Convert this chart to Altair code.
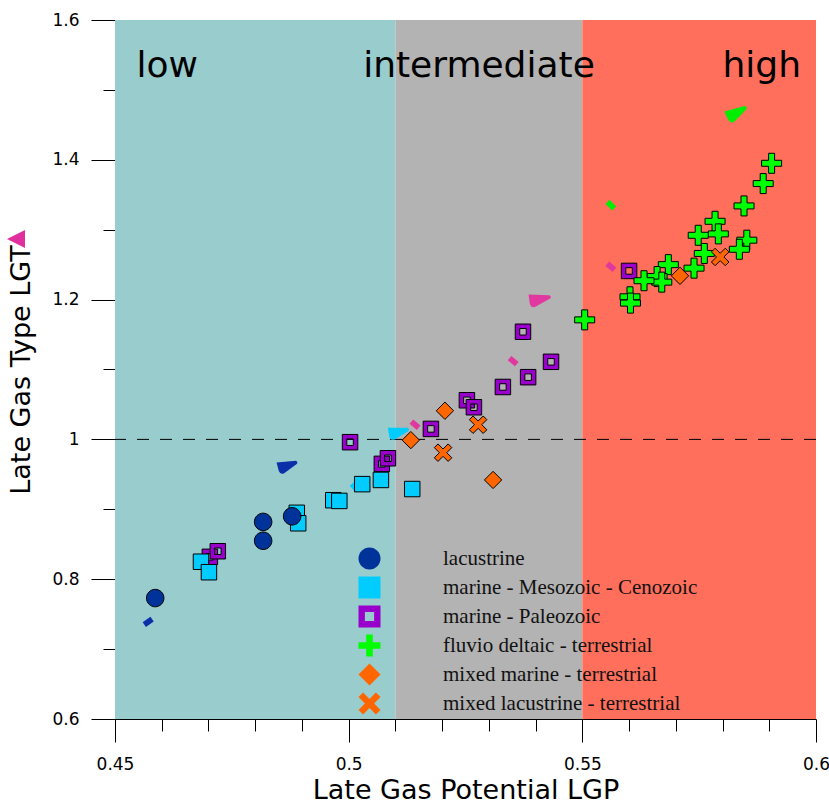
import altair as alt
import pandas as pd

# ---------------- data ----------------
categories = ["lacustrine", "marine - Mesozoic - Cenozoic", "marine - Paleozoic",
              "fluvio deltaic - terrestrial", "mixed marine - terrestrial",
              "mixed lacustrine - terrestrial"]

lac_x = [0.4586, 0.4817, 0.4817, 0.4879]
lac_y = [0.773, 0.882, 0.855, 0.890]

meso_x = [0.4684, 0.4701, 0.4889, 0.4892, 0.4967, 0.4980, 0.5029, 0.5069, 0.5136]
meso_y = [0.825, 0.810, 0.895, 0.880, 0.913, 0.912, 0.936, 0.942, 0.929]

paleo_x = [0.4703, 0.4720, 0.5003, 0.5071, 0.5084, 0.5176, 0.5253, 0.5268,
           0.5330, 0.5384, 0.5373, 0.5433, 0.5600]
paleo_y = [0.832, 0.840, 0.996, 0.965, 0.973, 1.015, 1.056, 1.046,
           1.075, 1.089, 1.154, 1.111, 1.241]

fluv_x = [0.5905, 0.5887, 0.5846, 0.5784, 0.5791, 0.5748, 0.5852, 0.5836, 0.5761,
          0.5739, 0.5684, 0.5660, 0.5670, 0.5632, 0.5602, 0.5603, 0.5505]
fluv_y = [1.395, 1.366, 1.334, 1.312, 1.294, 1.292, 1.285, 1.272, 1.266,
          1.245, 1.250, 1.233, 1.225, 1.227, 1.204, 1.195, 1.171]

mm_x = [0.5206, 0.5133, 0.5309, 0.5709]
mm_y = [1.041, 0.999, 0.942, 1.234]

ml_x = [0.5277, 0.5202, 0.5795]
ml_y = [1.021, 0.981, 1.261]

# small trend glyphs and wedge glyphs
small_x = [0.4571, 0.5014, 0.5142, 0.5352, 0.5561, 0.5561]
small_y = [0.739, 0.935, 1.021, 1.112, 1.247, 1.335]
wedge_x = [0.4870, 0.5108, 0.5410, 0.5831]
wedge_y = [0.963, 1.011, 1.201, 1.468]

band_start = [0.45, 0.51, 0.55]
band_end = [0.51, 0.55, 0.60]
band_names = ["low", "intermediate", "high"]

# ---------------- styles ----------------
cat_colors = ["#003399", "#00CCFF", "#9900CC", "#00FF00", "#FF6600", "#FF6600"]
P_CIRCLE = "M1,0A1,1,0,1,1,-1,0A1,1,0,1,1,1,0Z"
P_SQUARE = "M-1,-1L1,-1L1,1L-1,1Z"
P_FRAME = "M-1,-1L1,-1L1,1L-1,1ZM-0.42,-0.42L-0.42,0.42L0.42,0.42L0.42,-0.42Z"
P_CROSS = ("M-0.3,-1L0.3,-1L0.3,-0.3L1,-0.3L1,0.3L0.3,0.3L0.3,1L-0.3,1"
           "L-0.3,0.3L-1,0.3L-1,-0.3L-0.3,-0.3Z")
P_DIAMOND = "M0,-1L1,0L0,1L-1,0Z"
P_X = ("M-1,-0.58L-0.58,-1L0,-0.42L0.58,-1L1,-0.58L0.42,0L1,0.58L0.58,1L0,0.42"
       "L-0.58,1L-1,0.58L-0.42,0Z")
cat_shapes = [P_CIRCLE, P_SQUARE, P_FRAME, P_CROSS, P_DIAMOND, P_X]
cat_sizes = [306, 240, 240, 400, 300, 306]

band_colors = ["#99CCCC", "#B3B3B3", "#FF6F5C"]
small_colors = ["#0A2FA8", "#00CCFF", "#E0389F", "#E0389F", "#E0389F", "#00EE00"]
small_angles = [325, 320, 40, 40, 40, 45]
wedge_colors = ["#0A2FA8", "#00CCFF", "#E0389F", "#00EE00"]
wedge_angles = [345, 350, 352, 335]
wedge_sizes = [420, 440, 484, 500]

FONT = "DejaVu Sans"

# ---------------- scales / axes ----------------
xs = alt.Scale(domain=[0.45, 0.6], nice=False, zero=False)
ys = alt.Scale(domain=[0.6, 1.6], nice=False, zero=False)

x_ticks = [round(0.45 + 0.01 * i, 2) for i in range(16)]
y_ticks = [round(0.6 + 0.05 * i, 2) for i in range(21)]
x_major = [0.45, 0.5, 0.55, 0.6]
y_major = [0.6, 0.8, 1.0, 1.2, 1.4, 1.6]

x_axis = alt.Axis(
    values=x_ticks, title="Late Gas Potential LGP", grid=False,
    labelExpr=f"indexof({x_major}, datum.value) >= 0 ? format(datum.value, '~g') : ''",
    tickSize={"condition": {"test": f"indexof({x_major}, datum.value) < 0", "value": 12},
              "value": 23},
    labelFlush=False, labelOverlap=False, domainColor="black", tickColor="black",
    labelFont=FONT, labelFontSize=17, labelColor="black", labelPadding=14,
    titleFont=FONT, titleFontSize=27, titleFontWeight="normal", titleColor="black",
    titlePadding=5,
)
y_axis = alt.Axis(
    values=y_ticks, title="Late Gas Type LGT", grid=False,
    labelExpr=f"indexof({y_major}, datum.value) >= 0 ? format(datum.value, '~g') : ''",
    tickSize={"condition": {"test": f"indexof({y_major}, datum.value) < 0", "value": 12},
              "value": 24},
    labelFlush=False, labelOverlap=False, domainColor="black", tickColor="black",
    labelFont=FONT, labelFontSize=17, labelColor="black", labelPadding=12,
    titleFont=FONT, titleFontSize=27, titleFontWeight="normal", titleColor="black",
    titlePadding=16,
)

legend = alt.Legend(
    orient="none", legendX=243, legendY=527, title=None, symbolSize=484,
    symbolStrokeColor="black", symbolStrokeWidth=1, symbolOpacity=1,
    labelFont="Liberation Serif", labelFontSize=21, labelColor="#111111",
    labelOffset=62, rowPadding=2, padding=0, labelLimit=400,
)

# ---------------- layers ----------------
bands_df = pd.DataFrame({"x0": band_start, "x1": band_end, "c": band_colors})
bands = alt.Chart(bands_df).mark_rect().encode(
    x=alt.X("x0:Q", scale=xs, axis=x_axis),
    x2="x1:Q",
    fill=alt.Fill("c:N", scale=None),
)

dash = alt.Chart(pd.DataFrame({"y": [1.0]})).mark_rule(
    color="black", strokeWidth=1, strokeDash=[12, 11]
).encode(y=alt.Y("y:Q", scale=ys, axis=y_axis))

region_df = pd.DataFrame({
    "name": band_names,
    "x": [0.4546, 0.5031, 0.5968],
    "y": [1.518, 1.518, 1.518],
})
region_layers = []
for i, al in enumerate(["left", "left", "right"]):
    region_layers.append(
        alt.Chart(region_df.iloc[[i]]).mark_text(
            font=FONT, fontSize=36, align=al, baseline="alphabetic", color="black"
        ).encode(x=alt.X("x:Q", scale=xs), y=alt.Y("y:Q", scale=ys), text="name:N")
    )

small_df = pd.DataFrame({"x": small_x, "y": small_y, "c": small_colors, "a": small_angles})
smalls = alt.Chart(small_df).mark_point(
    shape="M-1,-0.6L1,-0.6L1,0.6L-1,0.6Z", size=90, filled=True, opacity=1
).encode(
    x=alt.X("x:Q", scale=xs), y=alt.Y("y:Q", scale=ys),
    fill=alt.Fill("c:N", scale=None), angle=alt.Angle("a:Q", scale=None),
)

wedge_df = pd.DataFrame({"x": wedge_x, "y": wedge_y, "c": wedge_colors,
                         "a": wedge_angles, "s": wedge_sizes})
wedges = alt.Chart(wedge_df).mark_point(
    shape="M-1,-0.55L0.88,-0.22Q1.05,-0.08 0.9,0.1L-0.55,0.65Q-0.95,0.72 -1,0.3Z",
    filled=True, opacity=1
).encode(
    x=alt.X("x:Q", scale=xs), y=alt.Y("y:Q", scale=ys),
    fill=alt.Fill("c:N", scale=None), angle=alt.Angle("a:Q", scale=None),
    size=alt.Size("s:Q", scale=None),
)

series = {
    "lacustrine": (lac_x, lac_y),
    "marine - Mesozoic - Cenozoic": (meso_x, meso_y),
    "marine - Paleozoic": (paleo_x, paleo_y),
    "fluvio deltaic - terrestrial": (fluv_x, fluv_y),
    "mixed marine - terrestrial": (mm_x, mm_y),
    "mixed lacustrine - terrestrial": (ml_x, ml_y),
}
draw_order = ["marine - Paleozoic", "marine - Mesozoic - Cenozoic", "lacustrine",
              "fluvio deltaic - terrestrial", "mixed marine - terrestrial",
              "mixed lacustrine - terrestrial"]
point_layers = []
for name in draw_order:
    xv, yv = series[name]
    df = pd.DataFrame({"x": xv, "y": yv, "type": [name] * len(xv)})
    point_layers.append(
        alt.Chart(df).mark_point(
            filled=True, size=cat_sizes[categories.index(name)], stroke="black",
            strokeWidth=1, opacity=1
        ).encode(
            x=alt.X("x:Q", scale=xs),
            y=alt.Y("y:Q", scale=ys),
            color=alt.Color("type:N", scale=alt.Scale(domain=categories, range=cat_colors),
                            legend=legend),
            shape=alt.Shape("type:N", scale=alt.Scale(domain=categories, range=cat_shapes),
                            legend=legend),
        )
    )

tri = alt.Chart(pd.DataFrame({"k": [0]})).mark_point(
    shape="M-1,0L1,-1L1,1Z", size=324, filled=True, fill="#E0309F", opacity=1
).encode(x=alt.value(-99), y=alt.value(219))

chart = alt.layer(bands, dash, *region_layers, smalls, wedges, *point_layers, tri).properties(
    width=701, height=699,
    padding={"left": 115, "top": 20, "right": 13, "bottom": 85},
    autosize=alt.AutoSizeParams(type="none"),
).configure_view(stroke=None)

chart.save("out.html", embed_options={"renderer": "svg", "actions": False})
